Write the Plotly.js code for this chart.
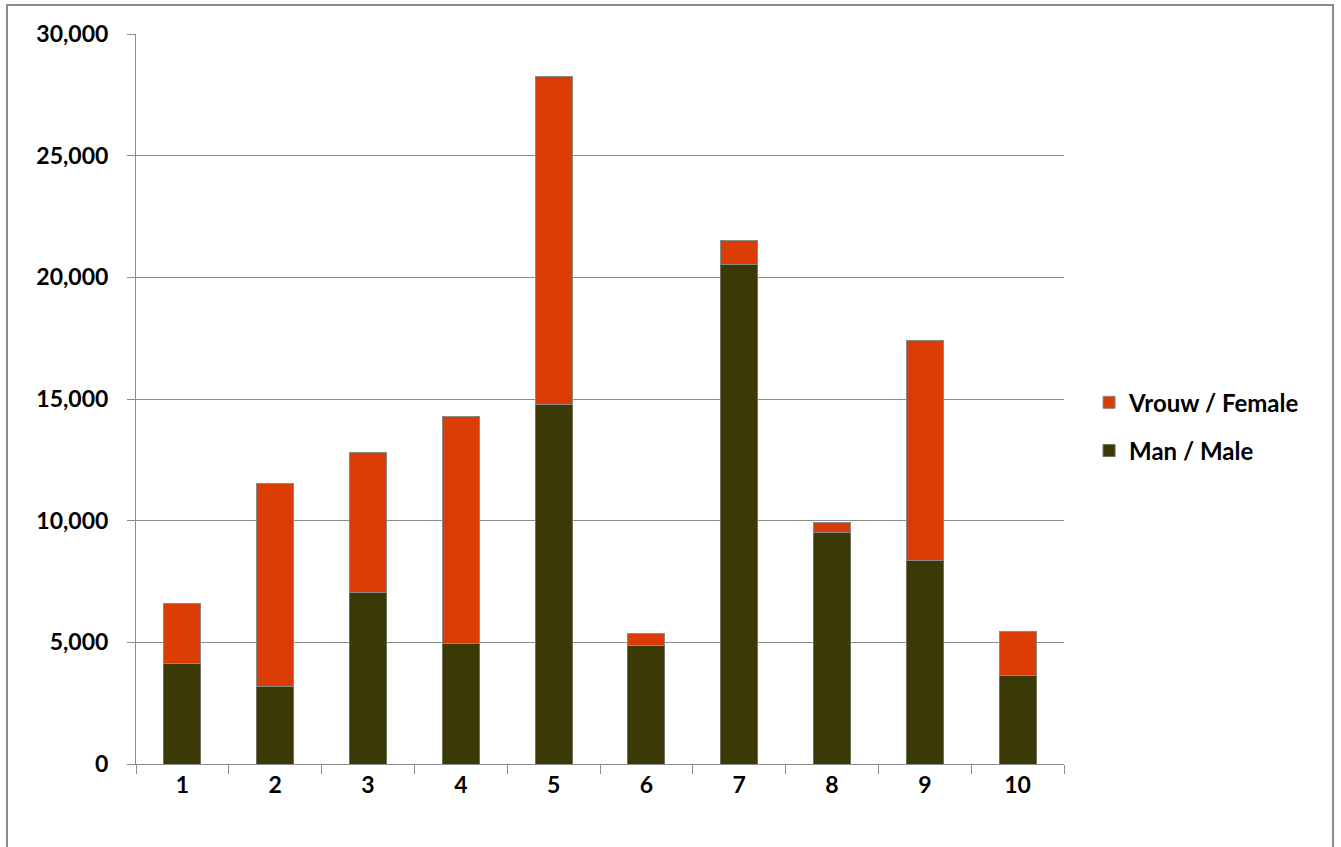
<!DOCTYPE html>
<html>
<head>
<meta charset="utf-8">
<script src="https://cdn.plot.ly/plotly-3.0.1.min.js"></script>
<style>html,body{margin:0;padding:0;background:#fff;}#chart{width:1341px;height:847px;}</style>
</head>
<body>
<div id="chart"></div>
<script>
const categories = ["1","2","3","4","5","6","7","8","9","10"];
const maleValues = [4130, 3200, 7060, 4970, 14780, 4880, 20520, 9520, 8360, 3650];
const femaleValues = [2460, 8330, 5730, 9330, 13460, 500, 980, 410, 9060, 1810];
const seriesNames = ["Man / Male", "Vrouw / Female"];
const yTickVals = [0, 5000, 10000, 15000, 20000, 25000, 30000];
const yTickText = ["0", "5,000", "10,000", "15,000", "20,000", "25,000", "30,000"];

const fontFam = "Lato, 'Open Sans', 'Liberation Sans', sans-serif";
const traces = [
  {type: "bar", name: seriesNames[0], x: categories, y: maleValues, legendgroup: "m", legendrank: 2,
   marker: {color: "#3b3a07", line: {color: "#6f6f5a", width: 1}}},
  {type: "bar", name: seriesNames[1], x: categories, y: femaleValues, legendgroup: "f", legendrank: 1,
   marker: {color: "#d93d04", line: {color: "#8a8a8a", width: 1}}}
];
const layout = {
  width: 1341, height: 847,
  margin: {l: 136, r: 277, t: 34, b: 83},
  paper_bgcolor: "#fff", plot_bgcolor: "#fff",
  barmode: "stack", bargap: 0.6,
  font: {family: fontFam, size: 23, color: "#000"},
  xaxis: {type: "category", showline: true, linecolor: "#8c8c8c", linewidth: 1,
          ticks: "outside", tickson: "boundaries", ticklen: 9, tickcolor: "#8c8c8c",
          showgrid: false, tickfont: {family: fontFam, size: 23, weight: "bold"}, fixedrange: true},
  yaxis: {range: [0, 30000], tickvals: yTickVals, ticktext: yTickText,
          showline: true, linecolor: "#8c8c8c", linewidth: 1,
          ticks: "outside", ticklen: 8, tickcolor: "#8c8c8c", ticklabelstandoff: 14,
          showgrid: true, gridcolor: "#8c8c8c", gridwidth: 1, zeroline: false,
          tickfont: {family: fontFam, size: 23, weight: "bold"}, fixedrange: true},
  legend: {x: 1.027, xanchor: "left", y: 0.462, yanchor: "middle",
           traceorder: "grouped", tracegroupgap: 14,
           font: {family: fontFam, size: 24, weight: "bold"}, itemwidth: 30},
  shapes: [{type: "rect", xref: "paper", yref: "paper",
            x0: -0.139, x1: 1.2899, y0: -0.115, y1: 1.0397,
            line: {color: "#8c8c8c", width: 2}}]
};
Plotly.newPlot("chart", traces, layout, {displayModeBar: false, staticPlot: true});
</script>
</body>
</html>
